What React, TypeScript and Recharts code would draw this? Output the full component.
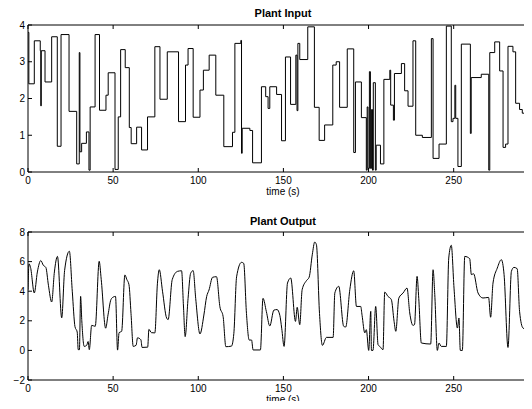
import { LineChart, Line, XAxis, YAxis, Label } from "recharts";

// plant input: [time (s), level] at each step change
const plantInput: [number, number][] = [
  [0, 3.8], [0.5, 2.4], [3.7, 3.57], [7.2, 3.3], [7.5, 1.8], [7.8, 3.3], [10, 2.45],
  [13.9, 3.68], [17.2, 0.7], [19.4, 3.74], [24.1, 1.65], [28.6, 0.22], [30.1, 3.25],
  [30.5, 0.55], [31.5, 0.78], [34.3, 1.09], [35.8, 0.05], [36.5, 1.77], [39.4, 3.74],
  [42, 1.68], [45.8, 2.09], [47.1, 2.7], [51.1, 0.07], [53, 1.5], [54.4, 3.33],
  [57.1, 2.84], [59.5, 1.21], [60.6, 0.77], [63.8, 1.22], [66.7, 0.6], [70.2, 1.5],
  [74.5, 3.41], [77.5, 1.98], [81.8, 3.27], [88.4, 1.37], [92.5, 2.91], [94, 3.36],
  [97, 1.49], [101, 2.23], [103, 2.77], [106.4, 3.18], [110.3, 2.09], [115, 0.69],
  [120.1, 1.08], [121.5, 3.5], [125, 3.58], [125.4, 0.51], [125.8, 1.19], [130.3, 1.13],
  [131.9, 0.25], [137.1, 2.32], [139.6, 2.05], [141, 1.73], [142, 2.32], [146, 2.11],
  [148.9, 0.85], [151.2, 3.13], [154.2, 1.84], [157.3, 3.18], [158, 1.67], [158.5, 3.5],
  [159.6, 3.06], [164.3, 3.95], [168.2, 1.76], [171, 0.86], [174.2, 1.28], [179, 2.91],
  [181, 3.0], [183, 1.76], [187.5, 3.35], [191.3, 0.53], [192.3, 2.45], [195.8, 1.48],
  [198.7, 0.05], [199.2, 1.77], [199.7, 0.1], [200.5, 2.73], [201.1, 0.1], [201.8, 1.7],
  [202.3, 0.05], [202.8, 2.43], [204, 0.05], [204.5, 0.73], [207, 0.22], [209, 2.52],
  [212.5, 2.77], [213, 1.82], [214.6, 1.41], [215.2, 2.68], [219.3, 2.95], [221.2, 2.21],
  [223.2, 1.79], [226.1, 3.57], [227.7, 1.0], [231.6, 0.94], [236.9, 3.63], [237.9, 0.37],
  [241.4, 0.76], [245.7, 3.97], [248.6, 1.37], [249.6, 1.46], [250.7, 2.36], [251.2, 1.46],
  [252.5, 0.15], [254.5, 3.48], [259.8, 1.05], [260.3, 2.57], [266.2, 2.66], [270.6, 0.05],
  [271.2, 3.25], [274.1, 3.54], [277, 2.75], [279, 0.67], [280.5, 0.76], [281.9, 3.42],
  [284.8, 3.27], [286.4, 1.87], [288.7, 1.7], [290.3, 1.6], [294.2, 0.03], [295, 2.77],
  [296, 2.77],
];

// plant output: [time (s), value]
const plantOutput: [number, number][] = [
  [0, 4.1], [0.6, 5.85], [1.5, 5.6], [3.7, 3.88], [5.5, 5.3], [7.5, 6.07], [9, 5.75],
  [10.5, 5.6], [12, 4.4], [13.9, 3.27], [15.5, 5.3], [17.3, 6.35], [19.8, 2.2], [21.5, 5.4],
  [24.3, 6.7], [26, 4.0], [27.6, 1.6], [28.9, 1.24], [29.5, 0.05], [30.2, 0.05], [30.9, 3.65],
  [31.6, 2.0], [33, 0.27], [34.5, 0.35], [35.3, 0.6], [36, 0.05], [37.4, 1.69], [39.5, 1.63],
  [41.8, 6.02], [43, 4.8], [45.6, 1.5], [47, 2.4], [48.7, 3.43], [50, 3.6], [51.4, 3.65],
  [52.6, 0.02], [53.5, 1.2], [55, 1.29], [56.9, 5.1], [58, 4.8], [59.3, 4.44], [60.5, 2.5],
  [61.8, 0.27], [63.5, 0.35], [64.3, 0.85], [66.3, 0.72], [67, 0.2], [70.3, 0.22], [71, 1.42],
  [72.5, 1.2], [74.5, 1.18], [76, 4.5], [77.1, 5.45], [79, 4.0], [81.4, 2.19], [82.3, 2.08],
  [84.7, 4.78], [87.8, 5.34], [90.2, 5.38], [91.3, 3.0], [92.3, 0.93], [94, 3.5], [95.5, 5.2],
  [97, 5.39], [98.5, 3.5], [101, 1.11], [103.3, 2.39], [104.9, 3.63], [106.3, 4.08],
  [108.4, 4.94], [110.7, 4.98], [112.7, 2.95], [114.6, 2.28], [116.2, 0.25], [119.5, 0.29],
  [120.9, 1.15], [122.5, 4.97], [125.4, 5.95], [126.7, 5.88], [128.3, 2.5], [129.9, 0.7],
  [131.3, 0.7], [132.2, 0.03], [136.5, 0.03], [138, 3.52], [140, 2.62], [142, 1.65],
  [144.4, 2.72], [146.3, 2.76], [147.9, 2.37], [149, 1.5], [150.4, 0.27], [152.4, 4.55],
  [154.3, 4.89], [157.1, 1.96], [158.1, 2.91], [159.6, 1.74], [161, 4.1], [163.5, 4.71],
  [165.1, 4.94], [167, 6.5], [168.4, 7.32], [169.4, 7.14], [171.2, 2.5], [172.9, 0.34],
  [175.3, 0.88], [179.2, 0.88], [180.2, 3.88], [182.5, 4.33], [185.4, 1.63], [186.6, 1.58],
  [189, 4.1], [191.3, 5.38], [192.9, 2.97], [195.4, 2.97], [196.2, 2.37], [197.8, 1.18],
  [198.7, 1.4], [200.1, 0.0], [201.3, 2.64], [201.7, 0.0], [202.6, 0.0], [204.2, 2.97],
  [205.6, 0.38], [206.6, 0.27], [208.5, 0.05], [209.5, 3.94], [211.4, 3.65], [213.4, 3.43],
  [215, 1.96], [216, 1.29], [217.8, 3.54], [220.3, 3.88], [222.6, 4.21], [224.2, 2.53],
  [226.1, 1.69], [227, 1.74], [228.5, 5.0], [229.5, 3.5], [231, 0.5], [236.5, 0.43],
  [237.9, 5.45], [238.9, 3.77], [240.4, 0.0], [241.4, 0.5], [242.7, 0.27], [245.7, 0.27],
  [247.1, 6.24], [248.6, 7.1], [250.2, 4.21], [252.2, 1.51], [253.1, 2.19], [253.9, 0.0],
  [255.1, 0.0], [256.5, 6.35], [259.4, 6.2], [260.4, 5.12], [261.7, 5.18], [264.3, 3.88],
  [267.2, 3.54], [270.5, 3.58], [271.7, 2.24], [273.1, 4.55], [275.6, 5.56], [278, 6.13],
  [279.6, 5.12], [281.9, 0.2], [283.9, 5.34], [285.4, 5.61], [287.3, 5.52], [288.7, 2.64],
  [290.7, 1.51], [293, 1.4], [294.6, 0.38], [295.2, 3.77], [296, 4.6],
];

const timeTicks = [0, 50, 100, 150, 200, 250];
const inputTicks = [0, 1, 2, 3, 4];
const outputTicks = [-2, 0, 2, 4, 6, 8];

const inputData = plantInput.map(([t, u]) => ({ t, u }));
const outputData = plantOutput.map(([t, y]) => ({ t, y }));

const font = "'Liberation Sans', Arial, Helvetica, sans-serif";
const tickStyle = { fill: "#000", fontSize: 10, fontFamily: font };
const labelStyle = { fill: "#000", fontSize: 10, fontFamily: font };
const titleStyle = { fill: "#000", fontSize: 11, fontWeight: "bold", fontFamily: font };
const axisLine = { stroke: "#000", strokeWidth: 1 };
const minus = (v: number) => String(v).replace("-", "\u2212");
const noTick = () => <g />;
// the figure is cropped a little before t = 300
const timeDomain = [0, 296];

export default function App() {
  return (
    <div style={{ position: "relative", width: 532, height: 409, overflow: "hidden", margin: -8, background: "#fff" }}>
      <div style={{ position: "absolute", left: 0, top: 0 }}>
        <LineChart width={532} height={200} data={inputData} margin={{ top: 24, right: 0, bottom: 0, left: 0 }}>
          <XAxis xAxisId="b" type="number" dataKey="t" domain={timeDomain} allowDataOverflow ticks={timeTicks} height={28}
            tickSize={-4} tickMargin={9} tick={tickStyle} axisLine={axisLine} tickLine={axisLine}>
            <Label value="time (s)" position="insideBottom" offset={5} dx={3} style={labelStyle} />
          </XAxis>
          <XAxis xAxisId="top" orientation="top" type="number" dataKey="t" domain={timeDomain} allowDataOverflow ticks={timeTicks}
            height={1} tickSize={-4} tick={noTick} axisLine={axisLine} tickLine={axisLine}>
            <Label value="Plant Input" position="top" offset={7} dx={3} style={titleStyle} />
          </XAxis>
          <YAxis type="number" domain={[0, 4]} ticks={inputTicks} width={28} tickSize={-4} tickMargin={7}
            tick={tickStyle} axisLine={axisLine} tickLine={axisLine} />
          <Line xAxisId="b" type="stepAfter" dataKey="u" stroke="#000" strokeWidth={1} dot={false} isAnimationActive={false} />
        </LineChart>
      </div>
      <div style={{ position: "absolute", left: 0, top: 200 }}>
        <LineChart width={532} height={209} data={outputData} margin={{ top: 31, right: 0, bottom: 0, left: 0 }}>
          <XAxis xAxisId="b" type="number" dataKey="t" domain={timeDomain} allowDataOverflow ticks={timeTicks} height={29}
            tickSize={-4} tickMargin={9} tick={tickStyle} axisLine={axisLine} tickLine={axisLine}>
            <Label value="time (s)" position="insideBottom" offset={6} dx={3} style={labelStyle} />
          </XAxis>
          <XAxis xAxisId="top" orientation="top" type="number" dataKey="t" domain={timeDomain} allowDataOverflow ticks={timeTicks}
            height={1} tickSize={-4} tick={noTick} axisLine={axisLine} tickLine={axisLine}>
            <Label value="Plant Output" position="top" offset={6} dx={3} style={titleStyle} />
          </XAxis>
          <YAxis type="number" domain={[-2, 8]} ticks={outputTicks} width={28} tickSize={-4} tickMargin={7}
            tick={tickStyle} tickFormatter={minus} axisLine={axisLine} tickLine={axisLine} />
          <Line xAxisId="b" type="monotone" dataKey="y" stroke="#000" strokeWidth={1} dot={false} isAnimationActive={false} />
        </LineChart>
      </div>
    </div>
  );
}
